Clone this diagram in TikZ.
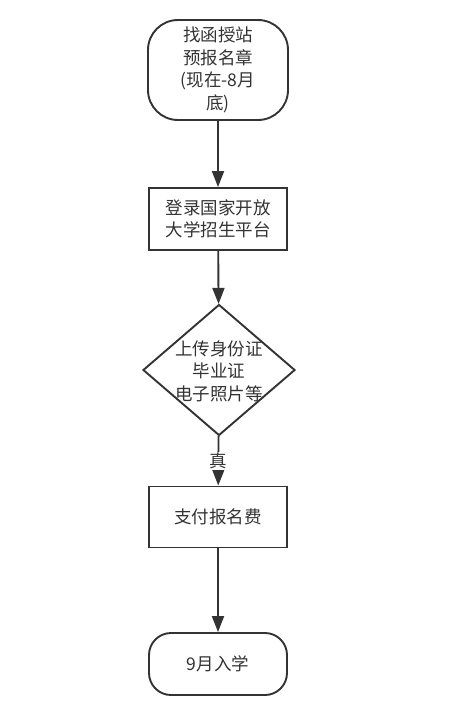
\documentclass[tikz,border=0pt]{standalone}
\usepackage{fontspec}
\setmainfont{Noto Sans CJK SC}
\usepackage{xcolor}
\usetikzlibrary{shapes.geometric,arrows.meta}
\definecolor{inkgray}{RGB}{51,51,51}

\begin{document}
\begin{tikzpicture}[x=1pt, y=-1pt,
  term/.style={draw=inkgray, line width=1.9pt, rounded corners=30pt, minimum width=140pt, minimum height=100pt, align=center, text=inkgray},
  box/.style={draw=inkgray, line width=1.9pt, minimum width=138pt, minimum height=62pt, align=center, text=inkgray},
  decide/.style={draw=inkgray, line width=1.9pt, diamond, inner sep=0pt, minimum width=152pt, minimum height=131pt},
  flow/.style={draw=inkgray, line width=1.9pt, -{Triangle[length=16pt,width=12pt]}},
  every node/.style={font=\fontsize{17.5}{22.5}\selectfont}
]
\path[fill=white] (0,0) rectangle (453,712);
\useasboundingbox (0,0) rectangle (453,712);

% start
\node[term] (start) at (218,70) {找函授站\\预报名章\\(现在-8月\\底)};

% register online
\node[box] (reg) at (218,219) {登录国家开放\\大学招生平台};

% upload check
\node[decide] (check) at (219,370) {};
\node[align=center, text=inkgray] (checktxt) at (219,371) {上传身份证\\毕业证\\电子照片等};

% payment
\node[box, minimum height=61pt] (pay) at (218,517) {支付报名费};

% end
\node[term, rounded corners=22pt, minimum height=62pt, minimum width=138pt] (finish) at (218,664) {9月入学};

% arrows
\draw[flow] (start) -- (reg);
\draw[flow] (reg) -- (check);
\draw[flow] (check) -- node[fill=white, text=inkgray, inner sep=1pt] (yes) {真} (pay);
\draw[flow] (pay) -- (finish);

\end{tikzpicture}
\end{document}
